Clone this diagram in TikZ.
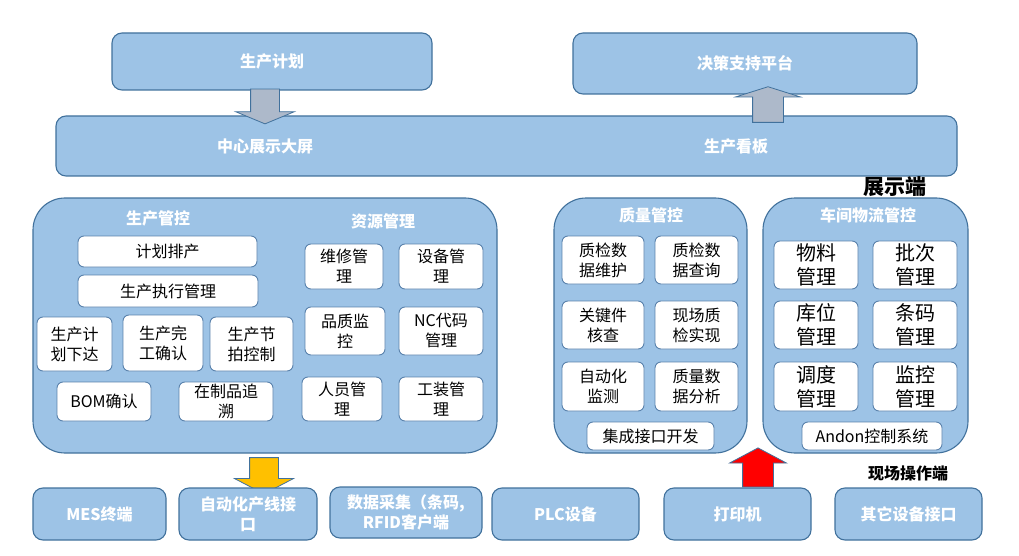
\documentclass[tikz,border=0pt]{standalone}
\usepackage{fontspec}
\setmainfont{Noto Sans CJK SC}
\usetikzlibrary{shapes.arrows, positioning, calc}
\usepackage{xcolor}
\definecolor{boxFill}{HTML}{9DC3E6}
\definecolor{boxLine}{HTML}{41719C}
\definecolor{itemLine}{HTML}{5A82AC}
\definecolor{arrGray}{HTML}{ADB9CA}
\definecolor{arrYellow}{HTML}{FFC000}
\tikzset{
    % Shapes
    blue box/.style={rectangle, draw=boxLine, fill=boxFill, line width=1.1pt,
                 rounded corners=10pt, inner sep=0pt, align=center, text=white,
                 font=\bfseries\fontsize{16}{20}\selectfont},
    panel/.style={rectangle, draw=boxLine, fill=boxFill, line width=1.1pt,
                 rounded corners=32pt, inner sep=0pt},
    title/.style={text=white, inner sep=0pt, font=\bfseries\fontsize{16}{20}\selectfont},
    item/.style={rectangle, draw=itemLine, fill=white, line width=0.9pt,
                 rounded corners=6pt, inner sep=0pt, align=center,
                 font=\fontsize{16}{20}\selectfont},
    big item/.style={item, font=\fontsize{20}{24}\selectfont},
    tag/.style={inner sep=0pt, text=black, font=\bfseries\fontsize{16}{20}\selectfont},
    % Block arrows
    block/.style={single arrow, draw=boxLine, line width=0.8pt,
                 inner xsep=14pt, inner ysep=14pt, single arrow head extend=15pt},
    block down/.style={block, shape border rotate=270},
    block up/.style={block, shape border rotate=90}
}
\begin{document}
\begin{tikzpicture}[x=1pt, y=-1pt]
\useasboundingbox (0,0) rectangle (1019,556);

% top level
\node[blue box, minimum width=320pt, minimum height=57pt] (plan) at (272,61.5) {生产计划};
\node[blue box, minimum width=344pt, minimum height=61pt] (decision) at (745,63.5) {决策支持平台};
\node[blue box, minimum width=901pt, minimum height=60pt] (bar) at (506.5,146) {};
\node[title] (screen) at (265,146) {中心展示大屏};
\node[title] (kanban) at (736,146) {生产看板};
\node[tag, font=\bfseries\fontsize{21}{24}\selectfont] (showEnd) at (895,187) {展示端};

\node[block down, fill=arrGray, minimum height=23pt,
      single arrow tip angle=135] (planArrow) at (265,103.5) {};
\node[block up, fill=arrGray, minimum height=20pt, inner xsep=15pt, inner ysep=15pt,
      single arrow head extend=17pt, single arrow tip angle=145] (boardArrow) at (768,107) {};

% production + resources
\node[panel, minimum width=464pt, minimum height=255pt] (prodPanel) at (265,325.5) {};
\node[title] (prodTitle) at (158,218) {生产管控};
\node[title] (resTitle) at (383,221) {资源管理};

\node[item, minimum width=179pt, minimum height=31pt] (p1) at (167.5,251.5) {计划排产};
\node[item, minimum width=180pt, minimum height=32pt] (p2) at (168,291) {生产执行管理};
\node[item, minimum width=75pt, minimum height=54pt] (p3) at (74.5,344) {生产计\\划下达};
\node[item, minimum width=80pt, minimum height=56pt] (p4) at (163,343) {生产完\\工确认};
\node[item, minimum width=83pt, minimum height=54pt] (p5) at (251.5,344) {生产节\\拍控制};
\node[item, minimum width=94pt, minimum height=39pt] (p6) at (104,401.5) {BOM确认};
\node[item, minimum width=94pt, minimum height=39pt] (p7) at (226,401.5) {在制品追\\溯};

\node[item, minimum width=78pt, minimum height=45pt] (r1) at (344,266.5) {维修管\\理};
\node[item, minimum width=84pt, minimum height=45pt] (r2) at (441,266.5) {设备管\\理};
\node[item, minimum width=80pt, minimum height=48pt] (r3) at (345,331) {品质监\\控};
\node[item, minimum width=84pt, minimum height=48pt] (r4) at (441,331) {NC代码\\管理};
\node[item, minimum width=80pt, minimum height=44pt] (r5) at (342,399) {人员管\\理};
\node[item, minimum width=84pt, minimum height=44pt] (r6) at (441,399) {工装管\\理};

% quality
\node[panel, minimum width=193pt, minimum height=255pt] (qualPanel) at (650.5,325.5) {};
\node[title] (qualTitle) at (651,215) {质量管控};
\node[item, minimum width=82pt, minimum height=48pt] (q1) at (603,260) {质检数\\据维护};
\node[item, minimum width=83pt, minimum height=48pt] (q2) at (696.5,260) {质检数\\据查询};
\node[item, minimum width=82pt, minimum height=48pt] (q3) at (603,325) {关键件\\核查};
\node[item, minimum width=83pt, minimum height=48pt] (q4) at (696.5,325) {现场质\\检实现};
\node[item, minimum width=82pt, minimum height=49pt] (q5) at (603,386.5) {自动化\\监测};
\node[item, minimum width=83pt, minimum height=49pt] (q6) at (696.5,386.5) {质量数\\据分析};
\node[item, minimum width=127pt, minimum height=28pt] (q7) at (650.5,436) {集成接口开发};

% logistics
\node[panel, minimum width=205pt, minimum height=255pt] (logPanel) at (865.5,325.5) {};
\node[title] (logTitle) at (868,215) {车间物流管控};
\node[big item, minimum width=84pt, minimum height=48pt] (w1) at (816,265) {物料\\管理};
\node[big item, minimum width=84pt, minimum height=48pt] (w2) at (915,265) {批次\\管理};
\node[big item, minimum width=84pt, minimum height=48pt] (w3) at (816,325) {库位\\管理};
\node[big item, minimum width=84pt, minimum height=48pt] (w4) at (915,325) {条码\\管理};
\node[big item, minimum width=84pt, minimum height=49pt] (w5) at (816,386.5) {调度\\管理};
\node[big item, minimum width=84pt, minimum height=49pt] (w6) at (915,386.5) {监控\\管理};
\node[item, minimum width=140pt, minimum height=28pt] (w7) at (872,436) {Andon控制系统};

% field side
\node[block down, fill=arrYellow, minimum height=30pt,
      single arrow tip angle=125] (downArrow) at (264,472) {};
\node[block up, fill=red, minimum height=29pt, inner xsep=15pt, inner ysep=15pt,
      single arrow head extend=13pt, single arrow tip angle=124] (upArrow) at (758,471.5) {};
\node[tag] (fieldEnd) at (908,473) {现场操作端};

\node[blue box, minimum width=133pt, minimum height=52pt] (mes) at (99.5,514) {MES终端};
\node[blue box, minimum width=138pt, minimum height=52pt] (line) at (248,514) {自动化产线接\\口};
\node[blue box, minimum width=152pt, minimum height=51pt] (collect) at (406,512.5) {数据采集（条码,\\RFID客户端};
\node[blue box, minimum width=147pt, minimum height=52pt] (plc) at (565.5,514) {PLC设备};
\node[blue box, minimum width=147pt, minimum height=52pt] (printer) at (737.5,514) {打印机};
\node[blue box, minimum width=147pt, minimum height=52pt] (other) at (908.5,514) {其它设备接口};

\end{tikzpicture}
\end{document}
